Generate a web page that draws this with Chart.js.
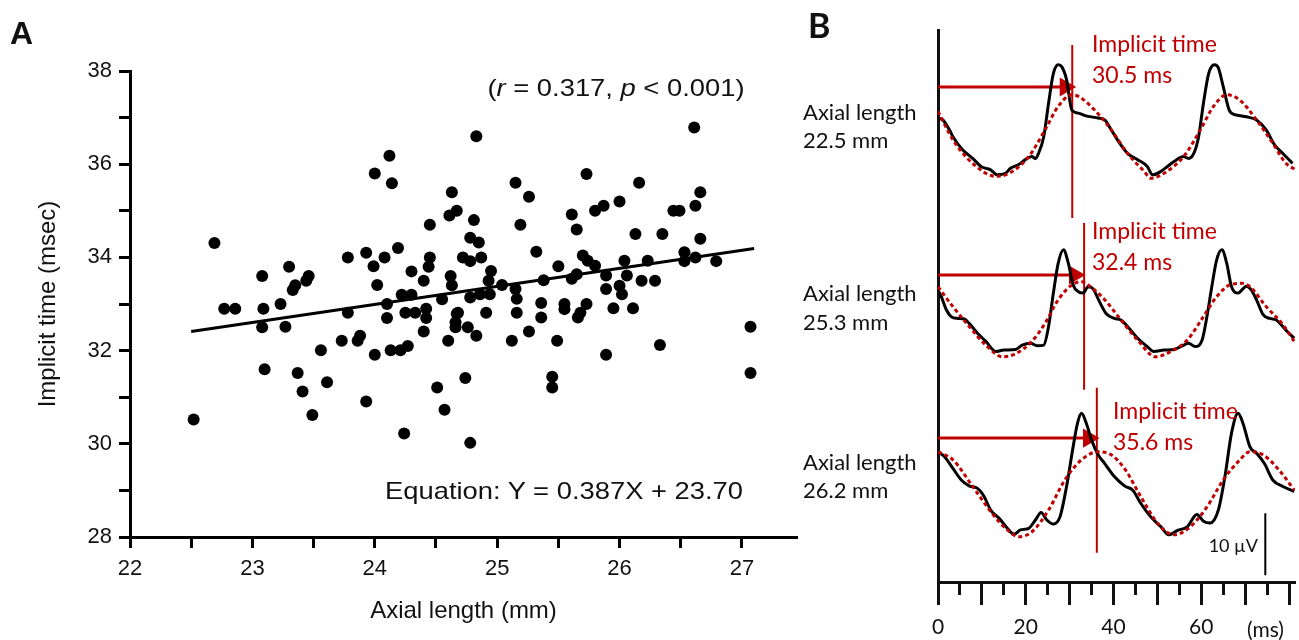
<!DOCTYPE html>
<html>
<head>
<meta charset="utf-8">
<script src="https://cdn.jsdelivr.net/npm/chart.js@4.4.0/dist/chart.umd.min.js"></script>
<style>
	body { margin: 0; background: #fff; width: 1299px; height: 640px; overflow: hidden; position: relative; }
	.txt { position: absolute; white-space: nowrap; line-height: 1; transform: translateY(-50%); color: #111; }
	.wide { transform: translateY(-50%) scaleX(1.14); transform-origin: right center; }
	.arial { font-family: "Liberation Sans", Arial, sans-serif; }
	.cal { font-family: Lato, "Noto Sans", sans-serif; }
	.red { color: #c00000; }
</style>
</head>
<body>
<canvas id="ChartScatter" width="820" height="640" style="position:absolute;left:0;top:0"></canvas>
<canvas id="ChartErg" width="399" height="640" style="position:absolute;left:900px;top:0"></canvas>

<div class="txt arial" style="left:10px;top:33px;font-size:32px;font-weight:bold">A</div>
<div class="txt arial wide" style="right:554px;top:88px;font-size:24px">(<i>r</i> = 0.317, <i>p</i> &lt; 0.001)</div>
<div class="txt arial wide" style="right:556px;top:491px;font-size:24px">Equation: Y = 0.387X + 23.70</div>

<div class="txt cal" style="left:808px;top:25px;font-size:34px;font-weight:bold">B</div>
<div class="txt cal" style="left:803px;top:112px;font-size:22px">Axial length</div>
<div class="txt cal" style="left:803px;top:140px;font-size:22px">22.5 mm</div>
<div class="txt cal" style="left:803px;top:293px;font-size:22px">Axial length</div>
<div class="txt cal" style="left:803px;top:322px;font-size:22px">25.3 mm</div>
<div class="txt cal" style="left:803px;top:462px;font-size:22px">Axial length</div>
<div class="txt cal" style="left:803px;top:490px;font-size:22px">26.2 mm</div>

<div class="txt cal red" style="left:1092px;top:43px;font-size:23px">Implicit time</div>
<div class="txt cal red" style="left:1092px;top:74px;font-size:23px">30.5 ms</div>
<div class="txt cal red" style="left:1092px;top:230px;font-size:23px">Implicit time</div>
<div class="txt cal red" style="left:1092px;top:261px;font-size:23px">32.4 ms</div>
<div class="txt cal red" style="left:1113px;top:410px;font-size:23px">Implicit time</div>
<div class="txt cal red" style="left:1113px;top:441px;font-size:23px">35.6 ms</div>

<div class="txt cal" style="right:41px;top:545px;font-size:18px">10 µV</div>
<div class="txt cal" style="left:1247px;top:628px;font-size:21px">(ms)</div>

<script>
// --------------
// DATA
// --------------

// panel A : axial length (mm) vs implicit time (msec)
const axialLength = [
	22.69, 24.00, 24.12, 24.14, 24.63, 24.61, 24.67, 24.45, 24.19, 23.78,
	23.93, 24.08, 23.99, 24.02, 24.30, 24.40, 24.45, 24.44, 24.62, 24.63,
	23.08, 23.30, 23.33, 23.35, 23.44, 23.46, 23.23, 23.09, 22.77, 22.86,
	24.22, 24.30, 24.10, 24.55, 23.08, 23.27, 23.10, 22.52, 23.37, 23.41,
	23.49, 23.56, 23.61, 23.78, 23.73, 23.86, 23.88, 24.00, 23.93, 24.10,
	24.13, 24.21, 24.27, 24.25, 24.33, 24.42, 24.42, 24.40, 24.51, 24.57,
	24.24, 24.60, 24.66, 24.67, 24.83, 24.81, 24.78, 24.85, 25.15, 25.26,
	25.19, 25.32, 24.72, 24.78, 24.87, 24.95, 24.93, 25.04, 24.78, 24.86,
	24.94, 25.15, 25.16, 25.38, 25.50, 25.73, 25.61, 25.65, 25.80, 25.87,
	26.00, 26.16, 26.13, 26.35, 26.44, 26.49, 26.61, 26.66, 26.62, 26.66,
	25.70, 25.74, 25.80, 26.04, 26.23, 26.53, 26.53, 26.62, 26.79, 25.61,
	25.65, 25.89, 25.89, 26.00, 26.06, 26.02, 26.18, 26.29, 25.16, 25.36,
	25.36, 25.55, 25.55, 25.73, 25.68, 25.66, 25.95, 26.11, 24.68, 24.66,
	24.76, 24.91, 24.83, 25.12, 25.26, 25.49, 25.89, 26.33, 27.07, 27.07,
	24.74, 24.78, 25.45, 25.45,
];
const implicitTime = [
	34.31, 35.80, 36.18, 35.59, 35.40, 34.90, 35.00, 34.70, 34.20, 34.00,
	34.10, 34.00, 33.81, 33.41, 33.70, 33.50, 34.00, 33.80, 33.60, 33.40,
	33.60, 33.80, 33.30, 33.40, 33.50, 33.60, 33.00, 32.90, 32.90, 32.90,
	33.20, 33.20, 33.00, 33.10, 32.50, 32.51, 31.60, 30.52, 31.52, 31.12,
	30.62, 32.01, 31.32, 32.81, 32.21, 32.21, 32.32, 31.91, 30.91, 32.70,
	32.01, 32.01, 32.10, 32.81, 32.81, 32.90, 32.70, 32.41, 31.21, 30.73,
	30.22, 32.21, 32.61, 32.79, 36.60, 34.80, 34.42, 34.32, 35.60, 35.30,
	34.70, 34.12, 34.00, 33.92, 34.00, 33.71, 33.50, 33.41, 33.14, 33.21,
	33.21, 33.32, 33.11, 33.51, 33.81, 35.79, 34.92, 34.60, 35.00, 35.11,
	35.20, 35.60, 34.50, 34.50, 35.00, 35.00, 36.79, 35.40, 35.11, 34.40,
	34.04, 33.93, 33.82, 33.93, 33.93, 34.11, 33.92, 34.00, 33.92, 33.54,
	33.64, 33.61, 33.32, 33.39, 33.61, 33.21, 33.50, 33.50, 32.81, 33.02,
	32.71, 33.00, 32.89, 33.00, 32.81, 32.71, 32.91, 32.91, 32.81, 32.50,
	32.50, 32.81, 32.32, 32.21, 32.41, 32.21, 31.91, 32.12, 32.51, 31.52,
	31.41, 30.02, 31.44, 31.21,
];
const fitX = [22.5, 27.1];
const fitY = [32.41, 34.19];

// panel B : ERG traces, time (ms) and amplitude (µV above each trace baseline)
const trace1BlackT = [0, 1.1, 2.6, 3.4, 5.6, 7.9, 9.8, 10.9, 12.0, 13.5, 15.4, 16.5, 18.4, 19.9, 21.4, 22.2, 22.9, 24.1, 25.2, 26.3, 27.4, 28.2, 29.3, 30.5, 32.0, 33.5, 36.5, 38.0, 39.5, 41.4, 43.2, 45.5, 47.7, 48.9, 50.8, 52.3, 53.8, 56.0, 57.1, 58.3, 59.4, 60.5, 61.7, 63.0, 63.9, 65.0, 66.5, 68.0, 70.3, 72.6, 74.8, 76.7, 78.6, 80.8];
const trace1BlackV = [9.8, 9.5, 7.9, 6.8, 4.7, 3.3, 2.0, 1.7, 1.45, 0.65, 0.9, 1.7, 2.3, 3.1, 3.6, 3.3, 4.1, 6.8, 12.2, 17.0, 18.4, 18.1, 16.0, 11.1, 10.6, 10.2, 9.8, 9.5, 7.9, 5.75, 4.1, 3.1, 2.0, 0.65, 1.2, 2.0, 2.8, 3.6, 3.3, 4.1, 6.8, 12.2, 17.0, 18.4, 17.9, 14.9, 10.9, 10.3, 10.0, 9.5, 7.9, 5.5, 4.1, 2.5];
const trace1RedT = [0, 3.4, 7.9, 13.2, 16.2, 20.7, 24.4, 27.4, 30.5, 32.0, 35.7, 39.5, 43.2, 47.0, 48.5, 51.5, 56.0, 59.8, 62.8, 65.8, 68.8, 72.6, 76.3, 79.3, 81.6];
const trace1RedV = [10.9, 6.3, 2.5, 0.4, 0.9, 3.6, 7.9, 11.7, 13.55, 13.3, 11.1, 7.9, 4.1, 1.2, 0.1, 0.9, 3.6, 7.9, 11.7, 13.55, 12.7, 9.5, 5.75, 2.5, 1.45];

const trace2BlackT = [0, 0.75, 1.9, 3.0, 4.5, 6.0, 7.1, 9.0, 10.9, 13.2, 15.0, 17.7, 19.2, 21.1, 22.6, 24.1, 25.2, 26.3, 27.4, 28.6, 29.7, 30.8, 32.0, 33.1, 34.2, 35.3, 36.8, 38.3, 40.2, 41.7, 43.2, 45.5, 47.7, 49.2, 51.5, 53.8, 56.0, 57.1, 58.6, 60.2, 61.3, 62.4, 63.5, 64.7, 65.8, 66.9, 68.4, 70.3, 71.4, 72.6, 74.1, 75.6, 77.1, 79.3, 81.2];
const trace2BlackV = [11.1, 10.0, 7.9, 6.8, 6.5, 6.4, 5.7, 4.1, 2.8, 1.15, 1.4, 1.5, 2.2, 2.5, 2.1, 2.2, 5.2, 10.6, 15.4, 17.55, 15.4, 11.9, 10.8, 10.6, 11.6, 11.3, 9.2, 7.3, 6.5, 6.25, 5.2, 3.3, 1.95, 1.15, 1.4, 1.5, 2.2, 2.5, 1.95, 3.0, 6.8, 11.6, 15.9, 17.55, 15.4, 11.6, 10.6, 11.7, 11.1, 9.5, 7.1, 6.5, 6.25, 4.6, 3.3];
const trace2RedT = [0, 3.4, 7.1, 10.9, 14.7, 17.7, 21.4, 24.4, 27.4, 30.5, 32.7, 34.2, 38.0, 41.7, 45.5, 49.6, 53.0, 56.8, 60.5, 63.5, 66.5, 69.2, 71.1, 74.8, 78.6, 81.2];
const trace2RedV = [11.6, 8.4, 5.2, 2.2, 0.3, 0.8, 2.8, 5.7, 9.5, 11.9, 12.4, 11.9, 9.5, 6.25, 3.0, 0.3, 1.15, 3.0, 6.8, 10.0, 11.9, 12.15, 11.6, 8.4, 5.5, 2.8];

const trace3BlackT = [0, 1.5, 3.4, 5.3, 7.1, 9.0, 10.5, 12.0, 13.9, 15.8, 17.3, 18.8, 20.7, 22.2, 23.5, 24.8, 26.3, 27.8, 29.3, 30.8, 31.8, 32.7, 33.8, 35.0, 36.5, 38.0, 40.2, 42.5, 44.4, 46.2, 48.5, 50.8, 52.6, 54.5, 56.8, 59.0, 60.5, 62.0, 63.9, 65.4, 66.9, 68.4, 69.5, 71.1, 72.6, 74.4, 76.3, 78.6, 81.2];
const trace3BlackV = [14.0, 13.2, 11.3, 9.45, 8.5, 8.1, 6.8, 4.6, 3.3, 1.66, 0.7, 1.4, 1.66, 3.0, 4.2, 3.0, 2.35, 3.5, 8.4, 14.8, 18.6, 20.2, 18.6, 15.9, 13.5, 12.1, 10.0, 8.5, 7.8, 5.7, 3.5, 1.9, 0.6, 1.3, 1.9, 3.9, 2.8, 2.5, 4.6, 10.0, 17.0, 20.2, 18.6, 14.8, 13.75, 12.1, 9.45, 8.4, 7.6];
const trace3RedT = [0, 3.4, 7.9, 12.4, 15.4, 18.4, 21.4, 25.2, 28.9, 32.7, 36.5, 39.5, 42.5, 46.2, 50.0, 53.8, 57.5, 61.3, 65.0, 68.8, 71.1, 74.1, 77.8, 81.2];
const trace3RedV = [14.0, 12.7, 8.4, 4.0, 1.66, 0.3, 1.1, 4.6, 9.45, 12.7, 14.0, 13.5, 11.3, 6.8, 2.5, 0.6, 1.9, 5.1, 9.45, 12.7, 14.0, 13.5, 11.0, 7.8];

// baseline of each trace on the shared µV axis
const traceOffsets = [65, 36, 7];

// implicit time markers (ms) and arrows
const markerTime = [30.6, 33.3, 36.2];
const markerTop = [86.6, 57.9, 31.3];
const markerBottom = [58.7, 31.0, 4.7];
const arrowLevel = [79.8, 49.5, 23.2];
const arrowEnd = [29.0, 31.1, 34.3];

// 10 µV scale bar
const scaleBarTime = 74.6;
const scaleBarFrom = 1.1;
const scaleBarTo = 11.1;

const RED = "#c00000";

// --------------
// CHART A
// --------------
const setScatterChart = () => {
	const points = axialLength.map((x, i) => ({ x: x, y: implicitTime[i] }));
	const fitLine = fitX.map((x, i) => ({ x: x, y: fitY[i] }));

	const configScatter = {
		type: "scatter",
		data: {
			datasets: [
				{
					data: points,
					backgroundColor: "#000",
					borderWidth: 0,
					pointRadius: 6,
					pointHoverRadius: 6,
				},
				{
					type: "line",
					data: fitLine,
					borderColor: "#000",
					borderWidth: 3,
					pointRadius: 0,
				},
			],
		},
		options: {
			responsive: false,
			animation: false,
			devicePixelRatio: 1,
			layout: { autoPadding: false, padding: { left: 0, right: 23, top: 71, bottom: 0 } },
			plugins: { legend: { display: false }, tooltip: { enabled: false } },
			scales: {
				x: {
					type: "linear",
					min: 22,
					max: 27.45,
					afterFit: (s) => { s.height = 103; },
					ticks: {
						stepSize: 0.5,
						includeBounds: false,
						autoSkip: false,
						maxRotation: 0,
						padding: 8,
						color: "#111",
						font: { family: "Liberation Sans", size: 22 },
						callback: (v) => (Number.isInteger(v) ? v : ""),
					},
					grid: { drawOnChartArea: false, tickLength: 11, tickWidth: 3, tickColor: "#000" },
					border: { color: "#000", width: 3 },
					title: {
						display: true,
						text: "Axial length (mm)",
						color: "#111",
						font: { family: "Liberation Sans", size: 24 },
						padding: { bottom: 14 },
					},
				},
				y: {
					min: 28,
					max: 38,
					afterFit: (s) => { s.width = 130; },
					ticks: {
						stepSize: 1,
						padding: 7,
						color: "#111",
						font: { family: "Liberation Sans", size: 22 },
						callback: (v) => (v % 2 === 0 ? v : ""),
					},
					grid: { drawOnChartArea: false, tickLength: 11, tickWidth: 3, tickColor: "#000" },
					border: { color: "#000", width: 3 },
					title: {
						display: true,
						text: "Implicit time (msec)",
						color: "#111",
						font: { family: "Liberation Sans", size: 24 },
						padding: { top: 34 },
					},
				},
			},
		},
	};

	const ChartScatter = new Chart(document.getElementById("ChartScatter"), configScatter);
};

// --------------
// CHART B
// --------------
const traceSet = (times, values, offset, color, dashed) => ({
	type: "line",
	data: times.map((t, i) => ({ x: t, y: values[i] + offset })),
	borderColor: color,
	borderWidth: 3,
	borderDash: dashed ? [4, 3] : [],
	pointRadius: 0,
	cubicInterpolationMode: "monotone",
});

const setErgChart = () => {
	const datasets = [
		traceSet(trace1RedT, trace1RedV, traceOffsets[0], RED, true),
		traceSet(trace2RedT, trace2RedV, traceOffsets[1], RED, true),
		traceSet(trace3RedT, trace3RedV, traceOffsets[2], RED, true),
		traceSet(trace1BlackT, trace1BlackV, traceOffsets[0], "#000", false),
		traceSet(trace2BlackT, trace2BlackV, traceOffsets[1], "#000", false),
		traceSet(trace3BlackT, trace3BlackV, traceOffsets[2], "#000", false),
	];

	markerTime.forEach((t, i) => {
		datasets.push({
			type: "line",
			data: [{ x: t, y: markerTop[i] }, { x: t, y: markerBottom[i] }],
			borderColor: RED,
			borderWidth: 2,
			pointRadius: 0,
		});
		datasets.push({
			type: "line",
			data: [{ x: 0, y: arrowLevel[i] }, { x: arrowEnd[i], y: arrowLevel[i] }],
			borderColor: RED,
			borderWidth: 3,
			pointStyle: "triangle",
			pointRotation: 90,
			pointRadius: [0, 8],
			pointBackgroundColor: RED,
			pointBorderColor: RED,
			clip: false,
		});
	});

	datasets.push({
		type: "line",
		data: [{ x: scaleBarTime, y: scaleBarFrom }, { x: scaleBarTime, y: scaleBarTo }],
		borderColor: "#000",
		borderWidth: 2,
		pointRadius: 0,
	});

	const configErg = {
		type: "scatter",
		data: { datasets: datasets },
		options: {
			responsive: false,
			animation: false,
			devicePixelRatio: 1,
			layout: { autoPadding: false, padding: { left: 0, right: 0, top: 30, bottom: 0 } },
			plugins: { legend: { display: false }, tooltip: { enabled: false } },
			scales: {
				x: {
					type: "linear",
					min: 0,
					max: 81.5,
					afterFit: (s) => { s.height = 58; },
					ticks: {
						stepSize: 5,
						includeBounds: false,
						autoSkip: false,
						maxRotation: 0,
						padding: 10,
						color: "#111",
						font: { family: "Lato", size: 21 },
						callback: (v) => (v % 20 === 0 && v <= 60 ? v : ""),
					},
					grid: {
						drawOnChartArea: false,
						tickLength: 23,
						tickWidth: 3,
						tickColor: "#111",
						tickBorderDash: (ctx) => (ctx.tick && ctx.tick.value % 10 !== 0 ? [11, 40] : []),
					},
					border: { color: "#111", width: 3 },
				},
				y: {
					min: 0,
					max: 89,
					afterFit: (s) => { s.width = 38; },
					ticks: { display: false },
					grid: { display: false },
					border: { color: "#111", width: 3 },
				},
			},
		},
	};

	const ChartErg = new Chart(document.getElementById("ChartErg"), configErg);
};

setScatterChart();
setErgChart();
</script>
</body>
</html>
